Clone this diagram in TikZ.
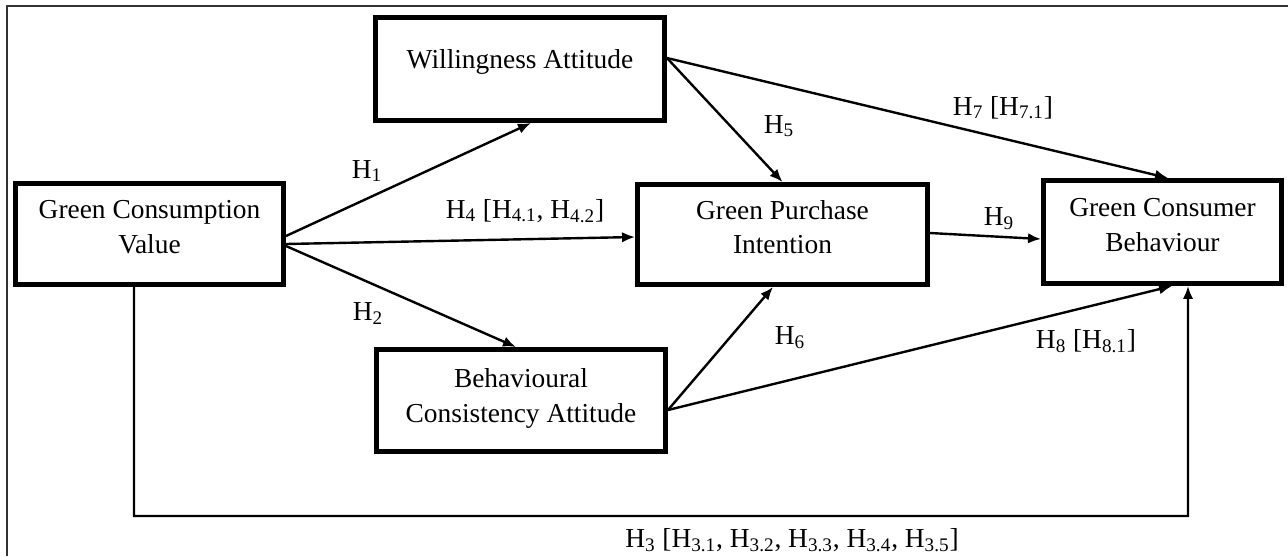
\documentclass[tikz,border=0pt]{standalone}
\usepackage{fontspec}
\setmainfont{Liberation Serif}
\usetikzlibrary{arrows.meta,positioning}
\newcommand{\hfont}{\fontsize{15.6pt}{19.8pt}\selectfont}
\newcommand{\hyp}[1]{H\textsubscript{#1}}
% two lines, lifted a little inside the box
\newcommand{\boxtext}[2][0.2cm]{\raisebox{0pt}[\height][\dimexpr\depth+#1\relax]{%
    \begin{tabular}{@{}c@{}}#2\end{tabular}}}
\tikzset{>={Latex[length=2.6mm,width=2.1mm]}}
\tikzset{construct/.style={shape=rectangle, draw, line width=0.1cm,
    align=center, inner sep=0pt}}
\tikzset{link/.style={->, line width=0.048cm}}

\begin{document}
\begin{tikzpicture}[x=0.02cm, y=-0.02cm]
    \tikzstyle{every node}=[font=\hfont]
    \useasboundingbox (0,0) rectangle (1288,556);
    \draw[line width=0.6pt, black!80] (1288,6) -- (7,6) -- (7,556);
    % constructs
    \node[construct, minimum width=5.36cm, minimum height=2.02cm] (gcv) at (149.5,234) {\boxtext{Green Consumption\\Value}};
    \node[construct, minimum width=5.78cm, minimum height=2.06cm,
      text height=0.45cm, text depth=0.49cm] (wa) at (520,69) {Willingness Attitude};
    \node[construct, minimum width=5.78cm, minimum height=2.04cm] (bca) at (521,400.5) {\boxtext[0.1cm]{Behavioural\\Consistency Attitude}};
    \node[construct, minimum width=5.8cm, minimum height=2.0cm] (gpi) at (782.5,234.5) {\boxtext{Green Purchase\\Intention}};
    \node[construct, minimum width=4.76cm, minimum height=2.06cm] (gcb) at (1162.5,232) {\boxtext{Green Consumer\\Behaviour}};
    \coordinate (loop) at (1188,516);
    % paths
    \draw[link] ([yshift=-0.04cm]gcv.east) -- ([xshift=0.22cm]wa.south);
    \draw[link] ([yshift=-0.2cm]gcv.east) -- ([yshift=-0.05cm]gpi.west);
    \draw[link] ([yshift=-0.24cm]gcv.east) -- ([xshift=-0.1cm]bca.north);
    \draw[link] ([yshift=0.22cm]wa.east) -- (gpi.north);
    \draw[link] ([yshift=0.22cm]wa.east) -- ([xshift=0.11cm]gcb.north);
    \draw[link] ([yshift=0.03cm]gpi.east) -- ([yshift=-0.14cm]gcb.west);
    \draw[link] ([yshift=-0.19cm]bca.east) -- ([xshift=-0.19cm]gpi.south);
    \draw[link] ([yshift=-0.19cm]bca.east) -- ([xshift=0.19cm]gcb.south);
    \draw[link] ([xshift=-0.31cm]gcv.south) |- (loop) -- ([xshift=0.51cm]gcb.south);
    % hypotheses
    \node[anchor=base] (h1) at (367,178) {\hyp{1}};
    \node[anchor=base] (h2) at (368,320) {\hyp{2}};
    \node[anchor=base] (h3) at (792,547) {\hyp{3} [\hyp{3.1}, \hyp{3.2}, \hyp{3.3}, \hyp{3.4}, \hyp{3.5}]};
    \node[anchor=base] (h4) at (525,218) {\hyp{4} [\hyp{4.1}, \hyp{4.2}]};
    \node[anchor=base] (h5) at (779,133) {\hyp{5}};
    \node[anchor=base] (h6) at (790,344) {\hyp{6}};
    \node[anchor=base] (h7) at (1003,115) {\hyp{7} [\hyp{7.1}]};
    \node[anchor=base] (h8) at (1086,348) {\hyp{8} [\hyp{8.1}]};
    \node[anchor=base] (h9) at (999,225) {\hyp{9}};
\end{tikzpicture}
\end{document}
